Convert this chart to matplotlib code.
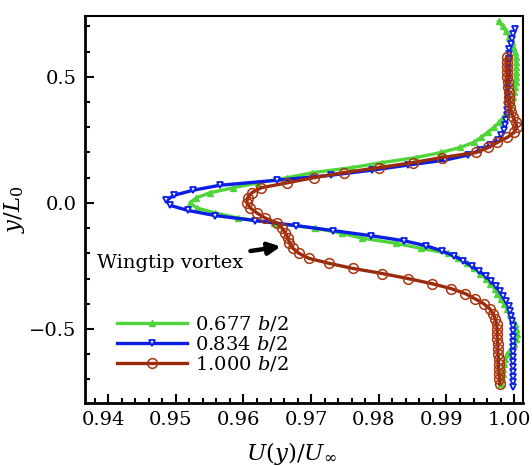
import matplotlib
matplotlib.use('Agg')
import matplotlib.pyplot as plt
from matplotlib.ticker import MultipleLocator, FuncFormatter
from matplotlib.transforms import ScaledTranslation

plt.rcParams['font.family'] = 'DejaVu Serif'
plt.rcParams['mathtext.fontset'] = 'dejavuserif'
plt.rcParams['font.size'] = 14

# 0.677 b/2
y_green = [0.72, 0.70, 0.68, 0.66, 0.64, 0.62, 0.60, 0.58, 0.56, 0.54, 0.52, 0.50, 0.48, 0.46, 0.44,
           0.42, 0.40, 0.38, 0.36, 0.34, 0.32, 0.30, 0.28, 0.26, 0.24, 0.22, 0.20, 0.18, 0.16, 0.14,
           0.12, 0.10, 0.08, 0.06, 0.04, 0.02, 0.00, -0.02, -0.04, -0.06, -0.08, -0.10, -0.12, -0.14,
           -0.16, -0.18, -0.20, -0.22, -0.24, -0.26, -0.28, -0.30, -0.32, -0.34, -0.36, -0.38, -0.40,
           -0.42, -0.44, -0.46, -0.48, -0.50, -0.52, -0.54, -0.56, -0.58, -0.60, -0.62, -0.64, -0.66,
           -0.68, -0.70, -0.72]
u_green = [0.9977, 0.9983, 0.9988, 0.9993, 0.9997, 0.9999, 1.0001, 1.0002, 1.0003, 1.0003, 1.0003,
           1.0002, 1.0002, 1.0001, 1.0000, 0.9998, 0.9996, 0.9993, 0.9989, 0.9984, 0.9978, 0.9970,
           0.9961, 0.9951, 0.9940, 0.9920, 0.9892, 0.9855, 0.9805, 0.9760, 0.9702, 0.9665, 0.9622,
           0.9585, 0.9550, 0.9530, 0.9521, 0.9531, 0.9558, 0.9592, 0.9645, 0.9705, 0.9745, 0.9775,
           0.9825, 0.9862, 0.9902, 0.9917, 0.9930, 0.9940, 0.9950, 0.9958, 0.9965, 0.9971, 0.9975,
           0.9980, 0.9985, 0.9990, 0.9994, 0.9997, 1.0001, 1.0003, 1.0004, 1.0003, 1.0000, 0.9995,
           0.9990, 0.9987, 0.9985, 0.9984, 0.9983, 0.9982, 0.9981]

# 0.834 b/2
y_blue = [0.69, 0.67, 0.65, 0.63, 0.61, 0.59, 0.57, 0.55, 0.53, 0.51, 0.49, 0.47, 0.45, 0.43, 0.41,
          0.39, 0.37, 0.35, 0.33, 0.31, 0.29, 0.27, 0.25, 0.23, 0.21, 0.19, 0.17, 0.15, 0.13, 0.11,
          0.09, 0.07, 0.05, 0.03, 0.01, -0.01, -0.03, -0.05, -0.07, -0.09, -0.11, -0.13, -0.15, -0.17,
          -0.19, -0.21, -0.23, -0.25, -0.27, -0.29, -0.31, -0.33, -0.35, -0.37, -0.39, -0.41, -0.43,
          -0.45, -0.47, -0.49, -0.51, -0.53, -0.55, -0.57, -0.59, -0.61, -0.63, -0.65, -0.67, -0.69,
          -0.71, -0.73]
u_blue = [1.0001, 0.9999, 0.9997, 0.9995, 0.9993, 0.9992, 0.9992, 0.9991, 0.9991, 0.9991, 0.9991,
          0.9991, 0.9991, 0.9991, 0.9991, 0.9990, 0.9990, 0.9989, 0.9988, 0.9987, 0.9985, 0.9981,
          0.9976, 0.9965, 0.9950, 0.9932, 0.9898, 0.9843, 0.9790, 0.9730, 0.9650, 0.9565, 0.9525,
          0.9497, 0.9486, 0.9492, 0.9518, 0.9558, 0.9617, 0.9678, 0.9733, 0.9788, 0.9837, 0.9870,
          0.9893, 0.9911, 0.9925, 0.9937, 0.9948, 0.9958, 0.9966, 0.9973, 0.9979, 0.9984, 0.9988,
          0.9992, 0.9994, 0.9996, 0.9997, 0.9998, 0.9998, 0.9998, 0.9998, 0.9998, 0.9998, 0.9998,
          0.9998, 0.9998, 0.9998, 0.9998, 0.9998, 0.9998]

# 1.000 b/2
y_red = [0.58, 0.56, 0.54, 0.52, 0.50, 0.48, 0.46, 0.44, 0.42, 0.40, 0.38, 0.36, 0.34, 0.32, 0.30,
         0.28, 0.26, 0.24, 0.22, 0.20, 0.18, 0.16, 0.14, 0.12, 0.10, 0.08, 0.06, 0.04, 0.02, 0.00,
         -0.02, -0.04, -0.06, -0.08, -0.10, -0.12, -0.14, -0.16, -0.18, -0.20, -0.22, -0.24, -0.26,
         -0.28, -0.30, -0.32, -0.34, -0.36, -0.38, -0.40, -0.42, -0.44, -0.46, -0.48, -0.50, -0.52,
         -0.54, -0.56, -0.58, -0.60, -0.62, -0.64, -0.66, -0.68, -0.70, -0.72]
u_red = [0.9989, 0.9989, 0.9989, 0.9990, 0.9990, 0.9991, 0.9991, 0.9992, 0.9992, 0.9993, 0.9994,
         0.9996, 0.9999, 1.0002, 1.0004, 1.0000, 0.9990, 0.9975, 0.9962, 0.9944, 0.9893, 0.9851,
         0.9800, 0.9748, 0.9704, 0.9665, 0.9626, 0.9612, 0.9606, 0.9605, 0.9610, 0.9620, 0.9632,
         0.9650, 0.9657, 0.9662, 0.9666, 0.9668, 0.9673, 0.9682, 0.9697, 0.9727, 0.9762, 0.9805,
         0.9843, 0.9878, 0.9907, 0.9928, 0.9942, 0.9955, 0.9964, 0.9969, 0.9972, 0.9974, 0.9975,
         0.9975, 0.9975, 0.9976, 0.9976, 0.9976, 0.9977, 0.9977, 0.9977, 0.9978, 0.9978, 0.9979]

labels = [r'0.677 $b/2$', r'0.834 $b/2$', r'1.000 $b/2$']

fig = plt.figure(figsize=(5.32, 4.66), dpi=100)
ax = fig.add_axes([0.160, 0.135, 0.823, 0.831])

ax.plot(u_green, y_green, color='#4fd43a', lw=2.4, marker='^', ms=5, mfc='#4fd43a',
        mec='#4fd43a', label=labels[0])
ax.plot(u_blue, y_blue, color='#0a1ee6', lw=2.4, marker='v', ms=5, mfc='white',
        mec='#0a1ee6', mew=1.3, label=labels[1])
ax.plot(u_red, y_red, color='#9a2a0c', lw=2.4, marker='o', ms=7, mfc='none',
        mec='#a8350f', mew=1.1, label=labels[2])

ax.set_xlim(0.9366, 1.0013)
ax.set_ylim(-0.794, 0.742)
ax.xaxis.set_major_locator(MultipleLocator(0.01))
ax.xaxis.set_minor_locator(MultipleLocator(0.002))
ax.yaxis.set_major_locator(MultipleLocator(0.5))
ax.yaxis.set_minor_locator(MultipleLocator(0.1))
ax.xaxis.set_major_formatter(FuncFormatter(lambda v, p: f'{v:.2f}'))
ax.yaxis.set_major_formatter(FuncFormatter(lambda v, p: f'{v:.1f}'.replace('-', '\u2212')))
ax.tick_params(which='both', direction='in', top=False, right=False, width=1.5)
ax.tick_params(which='major', length=6.5, pad=6)
ax.tick_params(which='minor', length=3.5)

# x tick labels sit a bit left of their ticks in the original
shift = ScaledTranslation(-5 / 100, 0, fig.dpi_scale_trans)
for lab in ax.get_xticklabels():
    lab.set_transform(lab.get_transform() + shift)

for side in ['left', 'bottom']:
    ax.spines[side].set_linewidth(2.0)
for side in ['top', 'right']:
    ax.spines[side].set_linewidth(1.5)

ax.set_xlabel(r'$U(y)/U_{\infty}$', fontsize=16.5)
ax.xaxis.set_label_coords(0.47, -0.095)
ax.set_ylabel(r'$y/L_0$', labelpad=2, fontsize=16.5)

ax.annotate('Wingtip vortex', xy=(0.9655, -0.173), xytext=(0.9384, -0.238),
            ha='left', va='center',
            arrowprops=dict(arrowstyle='-|>', lw=3.2, color='black', mutation_scale=18,
                            shrinkA=3, shrinkB=0))

ax.legend(loc='upper left', bbox_to_anchor=(0.073, 0.228), frameon=False, borderpad=0,
          borderaxespad=0, handlelength=3.6, handletextpad=0.4, labelspacing=0.05, numpoints=1)

fig.savefig('out.png', dpi=100)
